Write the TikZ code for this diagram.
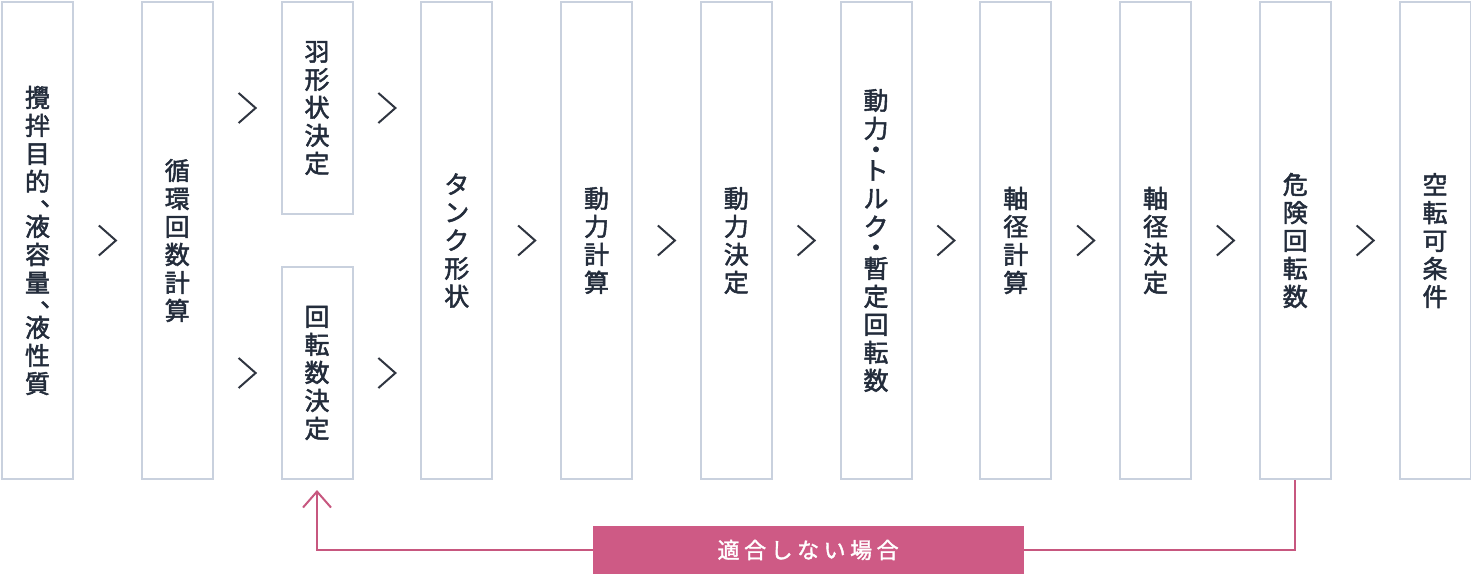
\documentclass[tikz,border=0pt]{standalone}
\usepackage{fontspec}
\newfontfamily\cjk{Noto Sans CJK JP}[FakeBold=2]
\newfontfamily\cjklbl{Noto Sans CJK JP}[FakeBold=1.6]
\usetikzlibrary{calc,arrows.meta}
\definecolor{boxline}{HTML}{C9D1DE}
\definecolor{txt}{HTML}{232C3B}
\definecolor{chev}{HTML}{2F3540}
\definecolor{pinkfill}{HTML}{CE5A85}
\definecolor{pinkline}{HTML}{C7577F}
\newcommand\mychev[1]{\draw[chevron] ($(#1)+(-8.5,-15)$) -- ($(#1)+(8.5,0)$) -- ($(#1)+(-8.5,15)$);}
\newcommand\vcomma{\raisebox{-9pt}{︑}}
\begin{document}
\begin{tikzpicture}[x=1pt,y=-1pt,
  stepbox/.style={draw=boxline, line width=2pt, minimum width=71pt, minimum height=477pt, inner sep=0pt, anchor=north west, text=txt, align=center, font=\cjk\fontsize{25}{28}\selectfont},
  halfbox/.style={stepbox, minimum height=212pt},
  chevron/.style={draw=chev, line width=2pt},
  fb/.style={draw=pinkline, line width=2pt},
  lbl/.style={fill=pinkfill, minimum width=431pt, minimum height=49pt, text=white, font=\cjklbl\fontsize{22}{26}\selectfont, inner sep=0pt}]
\useasboundingbox (0,0) rectangle (1471,573);
\node[stepbox] (b1) at (1,1) {攪\\拌\\目\\的\\[-7pt]\vcomma\\[-7pt]液\\容\\量\\[-7pt]\vcomma\\[-7pt]液\\性\\質};
\node[stepbox] (b2) at (140.75,1) {循\\環\\回\\数\\計\\算};
\node[halfbox] (b3a) at (280.5,1) {羽\\形\\状\\決\\定};
\node[halfbox] (b3b) at (280.5,266) {回\\転\\数\\決\\定};
\node[stepbox] (b4) at (420.25,1) {タ\\ン\\ク\\形\\状};
\node[stepbox] (b5) at (560,1) {動\\力\\計\\算};
\node[stepbox] (b6) at (699.75,1) {動\\力\\決\\定};
\node[stepbox] (b7) at (839.5,1) {動\\力\\[-7pt]・\\[-7pt]ト\\ル\\ク\\[-7pt]・\\[-7pt]暫\\定\\回\\転\\数};
\node[stepbox] (b8) at (979.25,1) {軸\\径\\計\\算};
\node[stepbox] (b9) at (1119,1) {軸\\径\\決\\定};
\node[stepbox] (b10) at (1258.75,1) {危\\険\\回\\転\\数};
\node[stepbox] (b11) at (1398.5,1) {空\\転\\可\\条\\件};
% chevrons
\coordinate (m12) at ($(b1.east)!0.5!(b2.west)$);
\coordinate (m23a) at ($(b2.east |- b3a.west)!0.5!(b3a.west)$);
\coordinate (m23b) at ($(b2.east |- b3b.west)!0.5!(b3b.west)$);
\coordinate (m34a) at ($(b3a.east)!0.5!(b4.west |- b3a.east)$);
\coordinate (m34b) at ($(b3b.east)!0.5!(b4.west |- b3b.east)$);
\coordinate (m45) at ($(b4.east)!0.5!(b5.west)$);
\coordinate (m56) at ($(b5.east)!0.5!(b6.west)$);
\coordinate (m67) at ($(b6.east)!0.5!(b7.west)$);
\coordinate (m78) at ($(b7.east)!0.5!(b8.west)$);
\coordinate (m89) at ($(b8.east)!0.5!(b9.west)$);
\coordinate (m910) at ($(b9.east)!0.5!(b10.west)$);
\coordinate (m1011) at ($(b10.east)!0.5!(b11.west)$);
\foreach \m in {m12,m23a,m23b,m34a,m34b,m45,m56,m67,m78,m89,m910,m1011}{\mychev{\m}}
% feedback loop
\coordinate (k1) at ($(b10.south)+(0,70)$);
\coordinate (k2) at (k1 -| b3b.south);
\draw[fb, -{Straight Barb[length=16pt,width=28pt]}, shorten >=10pt] (b10.south) -- (k1) -- (k2) -- (b3b.south);
\node[lbl] (lab) at ($(k1)!0.5!(k2)+(2,0)$) {適\kern4.5pt 合\kern4.5pt し\kern4.5pt な\kern4.5pt い\kern4.5pt 場\kern4.5pt 合};
\end{tikzpicture}
\end{document}
